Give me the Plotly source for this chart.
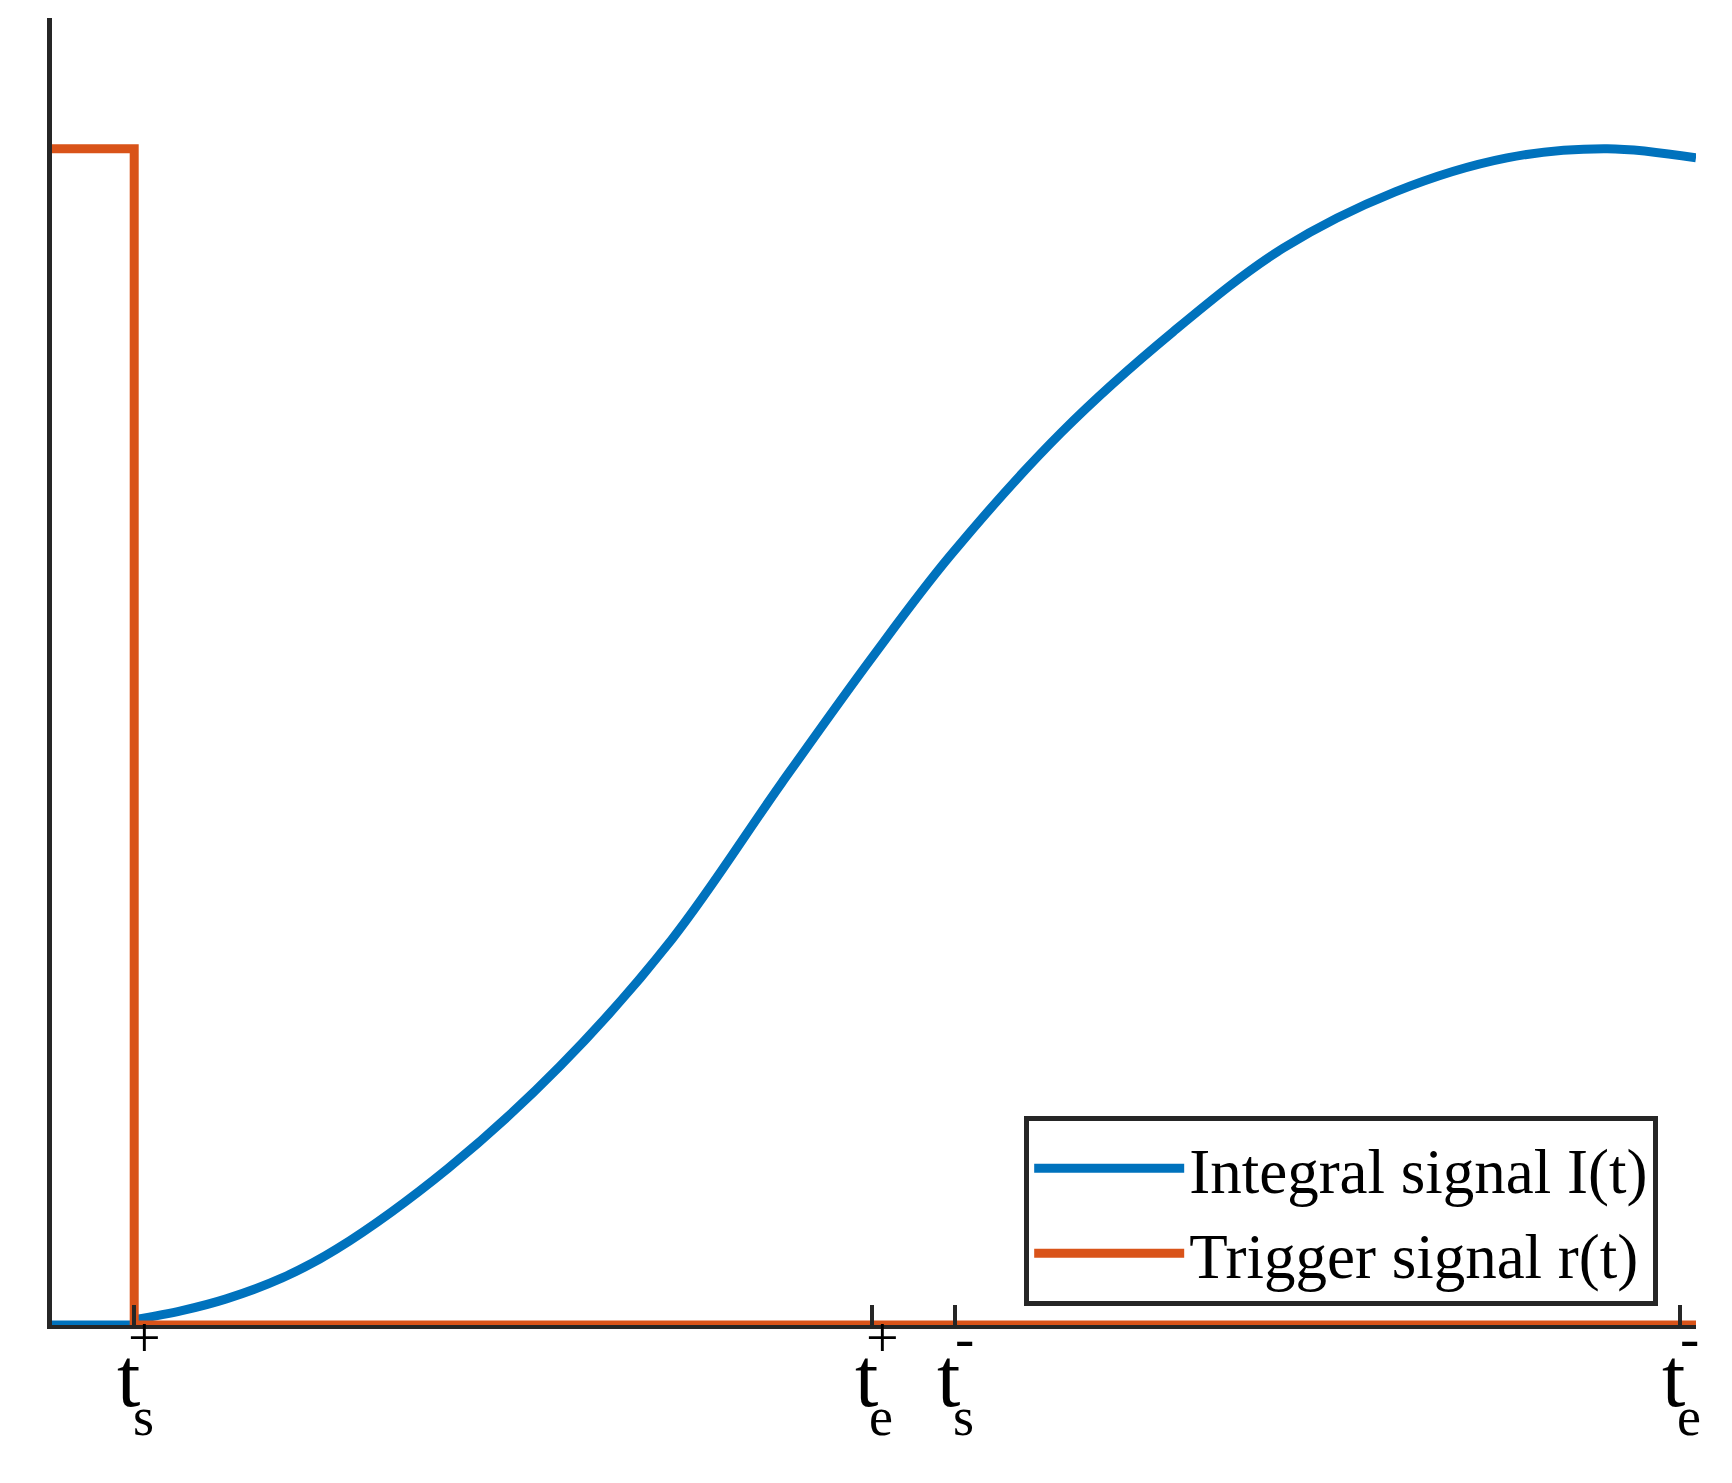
import plotly.graph_objects as go

x_int = [0, 0.05, 0.079, 0.106, 0.14, 0.173, 0.241, 0.309, 0.377, 0.444, 0.499, 0.546, 0.614, 0.682, 0.749, 0.817, 0.885, 0.946, 1.0]
y_int = [0, 0.004, 0.011, 0.02, 0.036, 0.058, 0.12, 0.198, 0.295, 0.415, 0.511, 0.588, 0.683, 0.76, 0.824, 0.867, 0.893, 0.9, 0.893]
x_trig = [0, 0.05, 0.05, 1.0]
y_trig = [0.9, 0.9, 0, 0]
tick_pos = [0.05, 0.499, 0.549, 0.99]
tick_sup = ["+", "+", "-", "-"]
tick_sub = ["s", "e", "s", "e"]

blue = "#0072BD"
orange = "#D95319"
fig = go.Figure()
fig.add_trace(go.Scatter(x=[0, 0.05], y=[0, 0], mode="lines", line=dict(color=blue, width=9), showlegend=False))
fig.add_trace(go.Scatter(x=x_int[1:], y=y_int[1:], mode="lines", line=dict(color=blue, width=9, shape="spline", smoothing=1.0), name="Integral signal I(t)"))
fig.add_trace(go.Scatter(x=x_trig, y=y_trig, mode="lines", line=dict(color=orange, width=9), name="Trigger signal r(t)"))

font = "Liberation Serif"
anns = []
for p, sp, sb in zip(tick_pos, tick_sup, tick_sub):
    anns.append(dict(x=p, y=-0.077, xref="x", yref="paper", text="t", showarrow=False, font=dict(family=font, size=84, color="black"), xshift=-6))
    anns.append(dict(x=p, y=-0.036, xref="x", yref="paper", text=sp, showarrow=False, font=dict(family=font, size=58, color="black"), xshift=10))
    anns.append(dict(x=p, y=-0.095, xref="x", yref="paper", text=sb, showarrow=False, font=dict(family=font, size=54, color="black"), xshift=9))

fig.update_layout(
    width=1732, height=1483, margin=dict(l=44, r=44, t=10, b=166),
    plot_bgcolor="white", paper_bgcolor="white",
    annotations=anns,
    legend=dict(x=0.977, y=0.16, xanchor="right", yanchor="top", bordercolor="#262626", borderwidth=5,
                font=dict(family=font, size=63, color="black"), bgcolor="white", itemwidth=150, tracegroupgap=0),
    xaxis=dict(range=[0, 1.0], showgrid=False, zeroline=False, showline=True, linecolor="#262626", linewidth=4,
               ticks="inside", ticklen=20, tickwidth=4, tickcolor="#262626", tickvals=tick_pos, ticktext=["", "", "", ""]),
    yaxis=dict(range=[0, 1.0], showgrid=False, zeroline=False, showline=True, linecolor="#262626", linewidth=5,
               showticklabels=False, ticks=""),
)
fig.write_html("out.html")
